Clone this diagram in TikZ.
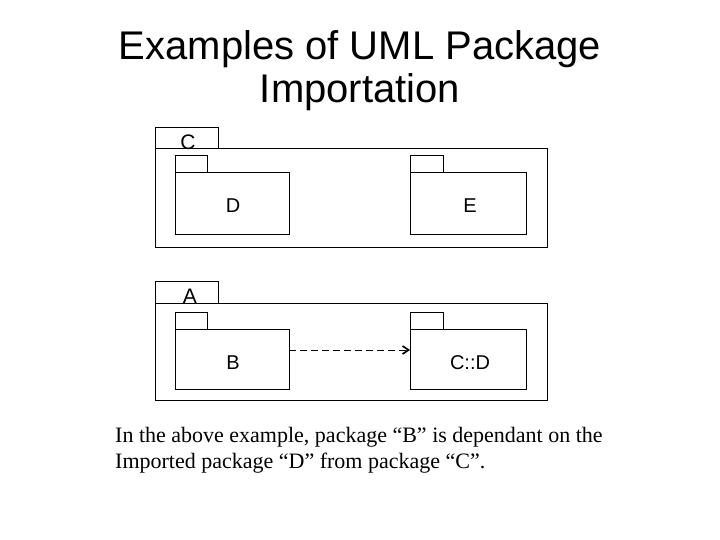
\documentclass[tikz,border=0pt]{standalone}
\usepackage{fontspec}
\setmainfont{Liberation Serif}
\newfontfamily\arialf{Liberation Sans}
\usetikzlibrary{arrows.meta}
\begin{document}
\begin{tikzpicture}[x=1pt,y=-1pt,
  box/.style={draw, line width=1pt, inner sep=0pt, outer sep=0pt, anchor=north west},
  lbl/.style={font=\arialf\fontsize{20}{24}\selectfont, inner sep=0pt, anchor=base},
  tablbl/.style={font=\arialf\fontsize{21}{25}\selectfont, inner sep=0pt, anchor=base},
  ttl/.style={font=\arialf\fontsize{40}{48}\selectfont, inner sep=0pt, anchor=base},
  body/.style={font=\fontsize{22}{26}\selectfont, inner sep=0pt, anchor=base west},
  dep/.style={line width=1pt, dash pattern=on 7pt off 4pt, -{Straight Barb[length=6pt,width=8pt,line width=1.6pt]}}]
\useasboundingbox (0,0) rectangle (720,540);
% title
\node[ttl] (t1) at (360,60) {Examples of UML Package};
\node[ttl] (t2) at (360,103) {Importation};
% package C
\node[box, minimum width=63pt, minimum height=21pt] (Ctab) at (155,128) {};
\node[box, minimum width=392pt, minimum height=98pt] (Couter) at (155,149) {};
\node[box, minimum width=32pt, minimum height=17pt] (Dtab) at (175,156) {};
\node[box, minimum width=114pt, minimum height=61pt] (Dbody) at (175,173) {};
\node[box, minimum width=33pt, minimum height=17pt] (Etab) at (410,156) {};
\node[box, minimum width=116pt, minimum height=61pt] (Ebody) at (410,173) {};
\node[tablbl] (Clbl) at (188,149.5) {C};
\node[lbl] (Dlbl) at (233,213) {D};
\node[lbl] (Elbl) at (470,213) {E};
% package A
\node[box, minimum width=63pt, minimum height=22pt] (Atab) at (155,281) {};
\node[box, minimum width=392pt, minimum height=97pt] (Aouter) at (155,303) {};
\node[box, minimum width=32pt, minimum height=17pt] (Btab) at (175,312) {};
\node[box, minimum width=114pt, minimum height=60pt] (Bbody) at (175,329) {};
\node[box, minimum width=33pt, minimum height=17pt] (CDtab) at (410,312) {};
\node[box, minimum width=116pt, minimum height=60pt] (CDbody) at (410,329) {};
\node[tablbl] (Albl) at (190,303.5) {A};
\node[lbl] (Blbl) at (233,369) {B};
\node[lbl] (CDlbl) at (470,369) {C::D};
% dependency
\draw[dep] ([yshift=9pt]Bbody.east) -- ([yshift=9pt]CDbody.west);
% caption
\node[body] (cap1) at (115,442) {In the above example, package “B” is dependant on the};
\node[body] (cap2) at (115,468) {Imported package “D” from package “C”.};
\end{tikzpicture}
\end{document}
